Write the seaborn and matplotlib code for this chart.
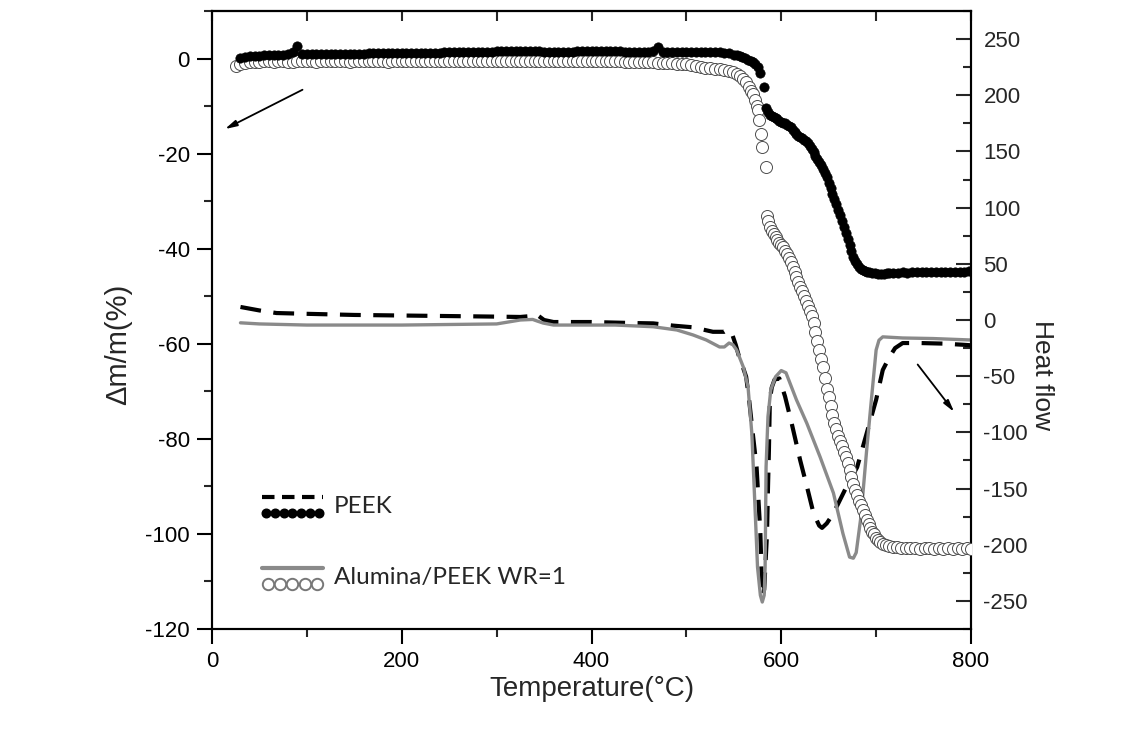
import numpy as np
import matplotlib
matplotlib.use("Agg")
import matplotlib.pyplot as plt
import seaborn as sns
from matplotlib.lines import Line2D
from matplotlib.legend_handler import HandlerBase
from matplotlib.ticker import MultipleLocator

# ---------------- data ----------------
# TGA, PEEK (filled dots, left axis)
peek_tga_T = [30, 35, 40, 45, 50, 55, 60, 65, 70, 75, 80, 85, 90, 95, 100, 105, 110, 115, 120, 125,
              130, 135, 140, 145, 150, 155, 160, 165, 170, 175, 180, 185, 190, 195, 200, 205, 210, 215,
              220, 225, 230, 235, 240, 245, 250, 255, 260, 265, 270, 275, 280, 285, 290, 295, 300, 305,
              310, 315, 320, 325, 330, 335, 340, 345, 350, 355, 360, 365, 370, 375, 380, 385, 390, 395,
              400, 405, 410, 415, 420, 425, 430, 435, 440, 445, 450, 455, 460, 465, 470, 475, 480, 485,
              490, 495, 500, 505, 510, 515, 520, 525, 530, 535, 540, 545, 550, 553, 556, 559, 562, 565,
              568, 570, 572, 575, 578, 582, 584, 586, 588, 590, 592, 594, 596, 598, 600, 602, 604, 606,
              608, 610, 612, 614, 616, 618, 620, 622, 624, 626, 628, 630, 632, 634, 636, 638, 640, 642,
              644, 646, 648, 650, 652, 654, 656, 658, 660, 662, 664, 666, 668, 670, 672, 674, 676, 678,
              680, 682, 684, 686, 688, 690, 693, 696, 699, 702, 705, 708, 711, 714, 718, 723, 728,
              733, 738, 743, 748, 753, 758, 763, 768, 773, 778, 783, 788, 793, 798]
peek_tga_m = [0.2, 0.4, 0.5, 0.6, 0.6, 0.7, 0.7, 0.8, 0.8, 0.8, 0.9, 1.3, 2.6, 0.9, 0.9, 0.9, 0.9, 0.9, 0.9, 1.0,
              1.0, 1.0, 1.0, 1.0, 1.0, 1.0, 1.0, 1.1, 1.1, 1.1, 1.1, 1.1, 1.1, 1.1, 1.1, 1.2, 1.2, 1.2,
              1.2, 1.2, 1.2, 1.2, 1.2, 1.3, 1.3, 1.3, 1.3, 1.3, 1.3, 1.3, 1.4, 1.4, 1.4, 1.4, 1.5, 1.5,
              1.5, 1.5, 1.5, 1.5, 1.5, 1.5, 1.5, 1.5, 1.4, 1.4, 1.4, 1.4, 1.4, 1.4, 1.4, 1.5, 1.5, 1.5,
              1.5, 1.5, 1.5, 1.5, 1.5, 1.5, 1.5, 1.4, 1.4, 1.4, 1.4, 1.4, 1.4, 1.5, 2.5, 1.4, 1.3, 1.3,
              1.3, 1.3, 1.3, 1.3, 1.3, 1.3, 1.3, 1.3, 1.3, 1.3, 1.2, 1.2, 0.8, 0.7, 0.6, 0.4, 0.1, -0.3,
              -0.6, -0.8, -1.2, -1.8, -3.0, -6.0, -10.5, -11.3, -11.8, -12.0, -12.3, -12.6, -12.8, -13.1, -13.3, -13.5, -13.6, -13.9,
              -14.1, -14.5, -15.0, -15.5, -15.8, -16.2, -16.5, -16.8, -17.1, -17.4, -17.8, -18.4, -19.0, -19.7, -20.4, -21.1, -21.7, -22.4,
              -23.2, -24.1, -25.0, -26.1, -27.2, -28.4, -29.5, -30.7, -31.8, -33.0, -34.2, -35.4, -36.6, -37.9, -39.2, -40.5, -41.8, -42.6,
              -43.3, -43.8, -44.2, -44.5, -44.7, -44.9, -45.0, -45.1, -45.2, -45.3, -45.3, -45.3, -45.2, -45.2, -45.1, -45.1, -45.0,
              -45.1, -45.0, -45.0, -44.9, -45.0, -44.9, -44.9, -44.9, -44.8, -44.9, -44.8, -44.8, -44.8, -44.7]

# TGA, Alumina/PEEK WR=1 (open circles, left axis)
alu_tga_T = [25, 30, 35, 40, 45, 50, 55, 60, 65, 70, 75, 80, 85, 90, 95, 100, 105, 110, 115, 120, 125,
             130, 135, 140, 145, 150, 155, 160, 165, 170, 175, 180, 185, 190, 195, 200, 205, 210, 215,
             220, 225, 230, 235, 240, 245, 250, 255, 260, 265, 270, 275, 280, 285, 290, 295, 300, 305,
             310, 315, 320, 325, 330, 335, 340, 345, 350, 355, 360, 365, 370, 375, 380, 385, 390, 395,
             400, 405, 410, 415, 420, 425, 430, 435, 440, 445, 450, 455, 460, 465, 470, 475, 480, 485,
             490, 495, 500, 505, 510, 515, 520, 525, 530, 535, 540, 545, 549, 553, 556, 560, 563, 566,
             568, 570, 572, 574, 575, 577, 579, 580, 584,
             585, 586, 588, 590, 592, 594, 596, 598, 600, 602, 604, 606, 608, 610, 612, 614, 616, 618,
             620, 622, 624, 626, 628, 630, 632, 634, 636, 638, 640, 642, 644, 646, 648, 650, 652, 654,
             656, 658, 660, 662, 664, 666, 668, 670, 672, 674, 676, 678, 680, 682, 684, 686, 688, 690,
             692, 694, 696, 698, 700, 702, 704, 707, 710, 714, 718, 722, 726, 731, 736, 741, 746, 751,
             756, 761, 766, 771, 776, 781, 786, 791, 796, 800]
alu_tga_m = [-1.5, -1.2, -1.0, -0.8, -0.7, -0.7, -0.6, -0.6, -0.7, -0.6, -0.6, -0.7, -0.7, -0.6, -0.6, -0.6, -0.6, -0.7, -0.6, -0.6, -0.6,
             -0.6, -0.6, -0.6, -0.7, -0.6, -0.6, -0.6, -0.6, -0.6, -0.6, -0.6, -0.7, -0.6, -0.6, -0.6, -0.6, -0.6, -0.6,
             -0.6, -0.6, -0.6, -0.6, -0.6, -0.6, -0.6, -0.6, -0.6, -0.6, -0.6, -0.6, -0.6, -0.5, -0.5, -0.5, -0.5, -0.5,
             -0.5, -0.5, -0.5, -0.5, -0.5, -0.5, -0.5, -0.6, -0.6, -0.6, -0.6, -0.6, -0.6, -0.6, -0.6, -0.6, -0.6, -0.6,
             -0.6, -0.6, -0.6, -0.6, -0.6, -0.6, -0.6, -0.7, -0.7, -0.7, -0.7, -0.8, -0.8, -0.8, -0.9, -0.9, -1.0, -1.0,
             -1.1, -1.1, -1.2, -1.3, -1.5, -1.7, -1.9, -2.0, -2.2, -2.3, -2.5, -2.7, -2.9, -3.3, -3.7, -4.2, -4.9, -5.9,
             -6.8, -7.5, -8.8, -10.0, -10.9, -13.0, -15.8, -18.7, -22.9,
             -33.2, -34.2, -35.5, -36.3, -37.0, -37.6, -38.1, -38.7, -39.2, -39.7, -40.5, -41.2, -42.0, -42.9, -43.9, -44.9, -46.0, -47.0,
             -48.0, -49.0, -50.0, -51.1, -52.1, -53.2, -54.2, -55.6, -57.5, -59.4, -61.3, -63.1, -64.9, -67.2, -69.5, -71.3, -73.0, -75.0,
             -76.7, -78.0, -79.3, -80.4, -81.5, -82.7, -83.9, -85.1, -86.6, -88.0, -89.4, -90.7, -91.9, -93.0, -94.0, -95.0, -96.1, -97.1,
             -98.0, -98.8, -99.5, -100.1, -100.8, -101.3, -101.7, -102.1, -102.4, -102.6, -102.7, -102.8, -102.9, -103.0, -102.9, -103.0, -103.1, -103.0,
             -103.0, -103.1, -103.0, -103.1, -103.0, -103.1, -103.0, -103.1, -103.0, -103.1]

# DTA, PEEK (dashed black, right axis)
peek_dta_T = [30, 50, 68, 100, 150, 200, 250, 300, 325, 336, 342, 350, 360, 400, 444, 465, 486, 507,
              528, 540, 544, 548, 552, 556, 560, 563, 566, 570, 574, 578, 580, 582, 585, 586, 587,
              588, 590, 593, 598, 604, 611, 620, 627, 634, 640, 643, 648, 655, 662, 669, 680, 690,
              700, 707, 714, 720, 728, 746, 770, 791, 800]
peek_dta_h = [11.6, 8.5, 6.2, 5.5, 4.5, 4.0, 3.5, 3.0, 2.7, 3.5, 5.0, 0.0, -1.8, -1.8, -2.7, -3.0, -5.0, -6.5,
              -10.5, -10.5, -8.5, -12.0, -22.0, -34.0, -43.0, -50.5, -70.0, -101.0, -131.0, -190.0, -246.0, -240.0, -190.0, -150.0, -116.0,
              -71.0, -60.0, -53.0, -52.0, -68.0, -92.0, -125.0, -148.0, -172.0, -183.0, -185.0, -181.0, -172.0, -160.0, -148.0, -131.0, -101.0,
              -71.0, -44.5, -33.0, -25.0, -20.5, -20.5, -21.0, -22.0, -22.5]

# DTA, Alumina/PEEK WR=1 (grey solid, right axis)
alu_dta_T = [30, 50, 100, 200, 300, 325, 338, 343, 349, 360, 425, 465, 490, 507, 521, 535, 540, 545,
             549, 553, 560, 565, 569, 572, 575, 578, 580, 582, 583, 584, 586, 589, 594, 600, 605, 616,
             627, 641, 655, 665, 672, 676, 679, 684, 690, 695, 700, 703, 707, 728, 760, 800]
alu_dta_h = [-2.5, -3.5, -4.5, -4.5, -3.5, 0.0, 0.5, -1.0, -2.7, -4.5, -4.5, -6.0, -8.9, -13.3, -17.8, -24.0, -24.0, -20.5,
             -22.0, -26.7, -41.8, -59.6, -101.0, -160.0, -220.0, -245.0, -251.0, -245.0, -220.0, -131.0, -86.0, -62.0, -50.5, -45.0, -47.0, -71.0,
             -92.0, -122.0, -154.0, -190.0, -211.0, -212.0, -207.0, -175.0, -116.0, -71.0, -26.7, -18.0, -15.0, -16.0, -16.5, -17.8]

legend_labels = ["PEEK", "Alumina/PEEK WR=1"]

# ---------------- style ----------------
sns.set_style("ticks")
plt.rcParams["font.family"] = ["Liberation Sans", "DejaVu Sans"]
plt.rcParams["axes.linewidth"] = 1.5
plt.rcParams["axes.unicode_minus"] = False

fig = plt.figure(figsize=(11.43, 7.32), dpi=100)
ax = fig.add_axes([212 / 1143, 1 - 629 / 732, (971 - 212) / 1143, (629 - 11) / 732])
ax2 = ax.twinx()

GREY = "#8a8a8a"
DASH = (0, (5.0, 3.0))

# DTA curves on the right axis
sns.lineplot(x=peek_dta_T, y=peek_dta_h, ax=ax2, color="black", lw=3.0, linestyle=DASH,
             estimator=None, sort=False)
sns.lineplot(x=alu_dta_T, y=alu_dta_h, ax=ax2, color=GREY, lw=2.4,
             estimator=None, sort=False)

# TGA curves on the left axis
sns.scatterplot(x=alu_tga_T, y=alu_tga_m, ax=ax, s=75, facecolor="white",
                edgecolor="#4d4d4d", linewidth=0.7, zorder=3)
sns.scatterplot(x=peek_tga_T, y=peek_tga_m, ax=ax, s=45, color="black",
                edgecolor="black", linewidth=0.5, zorder=4)

ax.set_zorder(ax2.get_zorder() + 1)
ax.patch.set_visible(False)

# ---------------- axes ----------------
ax.set_xlim(0, 800)
ax.set_ylim(-120, 10)
ax2.set_ylim(-275, 275)

ax.xaxis.set_major_locator(MultipleLocator(200))
ax.xaxis.set_minor_locator(MultipleLocator(100))
ax.yaxis.set_major_locator(MultipleLocator(20))
ax.yaxis.set_minor_locator(MultipleLocator(10))
ax2.yaxis.set_major_locator(MultipleLocator(50))
ax2.yaxis.set_minor_locator(MultipleLocator(25))

ax.tick_params(axis="both", which="major", direction="out", length=11, width=1.5,
               labelsize=16, pad=5, colors="black")
ax.tick_params(axis="both", which="minor", direction="out", length=6, width=1.5)
ax.tick_params(axis="y", which="major", pad=5)
ax2.tick_params(axis="y", which="major", direction="in", length=11, width=1.5,
                labelsize=16, pad=9)
ax2.tick_params(axis="y", which="minor", direction="in", length=6, width=1.5)

top = ax.secondary_xaxis("top")
top.set_xticks(list(range(0, 801, 100)))
top.set_xticklabels([])
top.tick_params(direction="in", length=7, width=1.5)

for a in (ax, ax2):
    for s in a.spines.values():
        s.set_linewidth(1.5)
        s.set_color("black")
        s.set_visible(True)

ax.set_xlabel("Temperature(°C)", fontsize=20)
ax.xaxis.set_label_coords(0.5, -0.097)
ax.xaxis.label.set_va("center")

ax.set_ylabel("Δm/m(%)", fontsize=21)
ax.yaxis.set_label_coords(-0.124, 0.46)
ax.yaxis.label.set(va="center", ha="center", rotation_mode="anchor")

ax2.set_ylabel("Heat flow", fontsize=19, rotation=270)
ax2.yaxis.set_label_coords(1.094, 0.411)
ax2.yaxis.label.set(va="center", ha="center", rotation_mode="anchor")

# arrows indicating which axis each curve group uses
ax.annotate("", xy=(11, -15.1), xytext=(98, -6.3),
            arrowprops=dict(arrowstyle="-|>,head_length=0.7,head_width=0.18", color="black", lw=1.3))
ax.annotate("", xy=(784, -74.8), xytext=(742, -63.9),
            arrowprops=dict(arrowstyle="-|>,head_length=0.7,head_width=0.18", color="black", lw=1.3))

# ---------------- legend ----------------
class StackHandler(HandlerBase):
    def create_artists(self, legend, orig_handle, xdescent, ydescent, width, height, fontsize, trans):
        line, dots, n = orig_handle
        x0, x1 = -xdescent, -xdescent + width
        yt = -ydescent + height * 0.88
        yb = -ydescent + height * 0.12
        l1 = Line2D([x0, x1], [yt, yt])
        l1.update_from(line)
        l1.set_transform(trans)
        r = dots.get_markersize() / 2
        xs = np.linspace(x0 + r, x1 - r, n)
        l2 = Line2D(xs, [yb] * n)
        l2.update_from(dots)
        l2.set_transform(trans)
        return [l1, l2]


class Stack(tuple):
    pass


h_peek = Stack((Line2D([], [], color="black", lw=3.0, linestyle=(0, (3.0, 1.8))),
                Line2D([], [], ls="none", marker="o", ms=6.2, mfc="black", mec="black"), 7))
h_alu = Stack((Line2D([], [], color=GREY, lw=3.0),
               Line2D([], [], ls="none", marker="o", ms=8.2, mfc="white", mec="#777777", mew=1.4), 5))

leg = ax2.legend([h_peek, h_alu], legend_labels, handler_map={Stack: StackHandler()},
                 loc="upper left", bbox_to_anchor=(0.05, 0.238), frameon=False,
                 borderpad=0, handlelength=2.5, handleheight=0.95, handletextpad=0.45,
                 labelspacing=2.0, prop={"family": ["Lato", "DejaVu Sans"], "size": 17.5})

fig.savefig("out.png", dpi=100)
